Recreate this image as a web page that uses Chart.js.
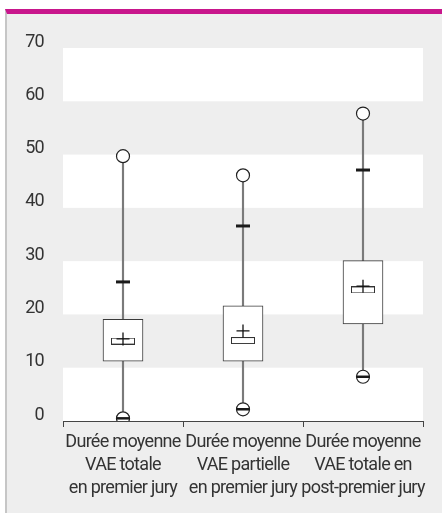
<!DOCTYPE html>
<html>
<head>
<meta charset="utf-8">
<script src="https://cdn.jsdelivr.net/npm/chart.js@4/dist/chart.umd.min.js"></script>
<style>
  html, body { margin: 0; padding: 0; background: #fff; }
  #frame {
    position: absolute; left: 5px; top: 9px; width: 435px; height: 499px;
    border-top: 5px solid #c8168c; border-left: 2px solid #c6c6c6;
    background: #eeeeee;
  }
  #chart { position: absolute; left: 0; top: 0; }
</style>
</head>
<body>
<div id="frame"></div>
<canvas id="chart" width="442" height="513"></canvas>
<script>
const categories = [
    ["Durée moyenne", "VAE totale", "en premier jury"],
    ["Durée moyenne", "VAE partielle", "en premier jury"],
    ["Durée moyenne", "VAE totale en", "post-premier jury"]
];
const maxima = [49.7, 46.1, 57.7];
const upperDash = [26.1, 36.6, 47.1];
const q3 = [19.1, 21.6, 30.1];
const medians = [15.0, 15.1, 24.6];
const means = [15.4, 16.9, 25.3];
const q1 = [11.25, 11.25, 18.2];
const minima = [0.5, 2.2, 8.3];
const yTicks = [0, 10, 20, 30, 40, 50, 60, 70];

const FONT = "Roboto, 'Liberation Sans', sans-serif";

// little flat rectangle used for the median
function medianMark() {
    const c = document.createElement("canvas");
    c.width = 24; c.height = 7;
    const g = c.getContext("2d");
    g.fillStyle = "#fff";
    g.fillRect(0.5, 0.5, 23, 6);
    g.strokeStyle = "#333";
    g.lineWidth = 1;
    g.strokeRect(0.5, 0.5, 23, 6);
    return c;
}

// white bands every other 10 units, and tighter text (the original uses a condensed face)
const bands = {
    id: "bands",
    beforeInit(chart) {
        chart.ctx.letterSpacing = "-0.7px";
    },
    beforeDraw(chart) {
        const { ctx, chartArea, scales } = chart;
        const y = scales.y;
        ctx.letterSpacing = "-0.7px";
        ctx.save();
        ctx.fillStyle = "#ffffff";
        for (let v = 0; v < 70; v += 20) {
            const top = y.getPixelForValue(v + 10);
            const bot = y.getPixelForValue(v);
            ctx.fillRect(chartArea.left, top, chartArea.right - chartArea.left, bot - top);
        }
        ctx.restore();
    }
};

const pts = (data, extra) => Object.assign({
    type: "line",
    data,
    showLine: false,
    pointBackgroundColor: "#fff",
    pointBorderColor: "#222",
    pointBorderWidth: 1.2,
    pointHoverRadius: 0
}, extra);

new Chart(document.getElementById("chart"), {
    type: "bar",
    data: {
        labels: categories,
        datasets: [
            {
                data: minima.map((v, i) => [v, maxima[i]]),
                backgroundColor: "#7a7a7a",
                barThickness: 1.5,
                grouped: false,
                order: 10
            },
            {
                data: q1.map((v, i) => [v, q3[i]]),
                backgroundColor: "#ffffff",
                borderColor: "#3a3a3a",
                borderWidth: 1,
                borderSkipped: false,
                barThickness: 40,
                grouped: false,
                order: 9
            },
            pts(medians, { pointStyle: medianMark(), pointRadius: 12, order: 8 }),
            pts(means, { pointStyle: "cross", pointRadius: 6.5, pointBorderWidth: 1.3, pointBorderColor: "#111", order: 7 }),
            pts(upperDash, { pointStyle: "line", pointRadius: 7, pointBorderWidth: 3, pointBorderColor: "#1a1a1a", order: 6 }),
            pts(maxima, { pointStyle: "circle", pointRadius: 6.5, order: 5 }),
            pts(minima, { pointStyle: "circle", pointRadius: 6.5, order: 4 }),
            pts(minima, { pointStyle: "line", pointRadius: 6.5, pointBorderWidth: 2.5, pointBorderColor: "#1a1a1a", order: 3 })
        ]
    },
    options: {
        responsive: false,
        animation: false,
        layout: { padding: { top: 48, right: 19, bottom: 0, left: 0 } },
        plugins: { legend: { display: false }, tooltip: { enabled: false } },
        scales: {
            x: {
                offset: true,
                afterFit: s => { s.height = 92; },
                grid: { display: true, drawOnChartArea: false, drawTicks: true, tickLength: 6, color: "#444", offset: true },
                border: { display: true, color: "#444", width: 1 },
                ticks: {
                    color: "#333",
                    padding: 4,
                    maxRotation: 0,
                    autoSkip: false,
                    font: { family: FONT, size: 18, lineHeight: "23px" }
                }
            },
            y: {
                min: 0,
                max: 70,
                afterFit: s => { s.width = 63; },
                afterBuildTicks: s => { s.ticks = yTicks.map(v => ({ value: v })); },
                grid: { display: false, drawTicks: false },
                border: { display: false },
                ticks: {
                    color: "#333",
                    padding: 19,
                    labelOffset: -6,
                    font: { family: FONT, size: 18 }
                }
            }
        }
    },
    plugins: [bands]
});
</script>
</body>
</html>
